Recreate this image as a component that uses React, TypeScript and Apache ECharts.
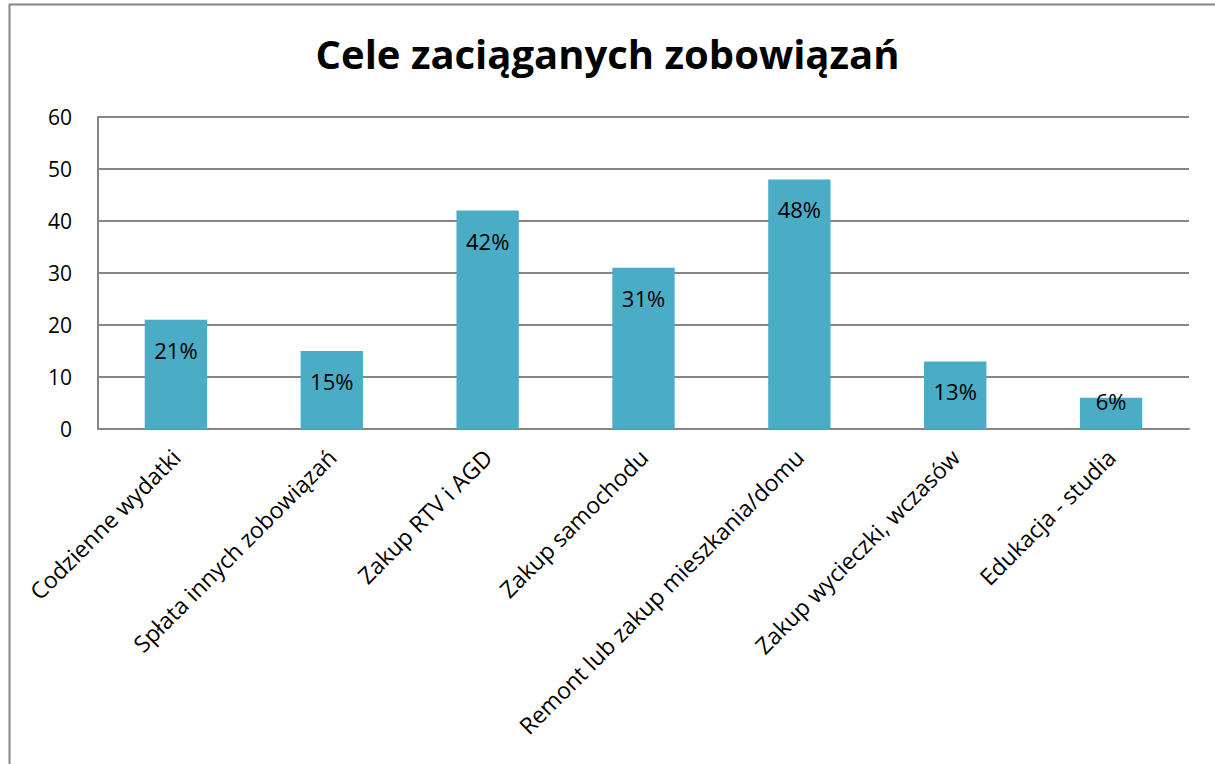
import React, { useEffect, useRef } from "react";
import * as echarts from "echarts";

const title = "Cele zaciąganych zobowiązań";
const categories = [
  "Codzienne wydatki",
  "Spłata innych zobowiązań",
  "Zakup RTV i AGD",
  "Zakup samochodu",
  "Remont lub zakup mieszkania/domu",
  "Zakup wycieczki, wczasów",
  "Edukacja - studia",
];
const values = [21, 15, 42, 31, 48, 13, 6];
const yTicks = { min: 0, max: 60, interval: 10 };

const FONT = "'Open Sans', sans-serif";
const GRID = "#868686";

export default function App() {
  const ref = useRef<HTMLDivElement>(null);
  useEffect(() => {
    if (!ref.current) return;
    const chart = echarts.init(ref.current, null, { renderer: "svg" });
    chart.setOption({
      animation: false,
      backgroundColor: "#ffffff",
      title: {
        text: title,
        left: "center",
        top: 28,
        textStyle: { fontFamily: FONT, fontWeight: "bold", fontSize: 40, color: "#000" },
      },
      graphic: [
        {
          type: "rect",
          shape: { x: 9.5, y: 4.5, width: 1230, height: 800 },
          style: { fill: "none", stroke: GRID, lineWidth: 2 },
          silent: true,
          z: -1,
        },
      ],
      grid: { left: 98, top: 117, right: 26, bottom: 335, containLabel: false },
      xAxis: {
        type: "category",
        data: categories,
        axisLine: { show: true, lineStyle: { color: GRID, width: 2 } },
        axisTick: { show: false },
        axisLabel: {
          interval: 0,
          rotate: 45,
          margin: 24,
          fontFamily: FONT,
          fontSize: 23,
          color: "#000",
        },
      },
      yAxis: {
        type: "value",
        min: yTicks.min,
        max: yTicks.max,
        interval: yTicks.interval,
        axisLine: { show: true, lineStyle: { color: GRID, width: 2 } },
        axisTick: { show: false },
        splitLine: { show: true, lineStyle: { color: GRID, width: 2 } },
        axisLabel: { margin: 26, fontFamily: FONT, fontSize: 21, color: "#000" },
      },
      series: [
        {
          type: "bar",
          data: values.map((v) => ({
            value: v,
            label:
              v < 8
                ? { position: "insideTop", distance: 0, offset: [0, -8] }
                : undefined,
          })),
          barWidth: "40%",
          itemStyle: { color: "#4BACC6" },
          label: {
            show: true,
            position: "insideTop",
            distance: 19,
            fontFamily: FONT,
            fontSize: 22,
            color: "#000",
            formatter: (p: any) => `${p.value}%`,
          },
        },
      ],
    });
    return () => chart.dispose();
  }, []);
  return (
    <div
      ref={ref}
      style={{ position: "absolute", left: 0, top: 0, width: 1215, height: 764 }}
    />
  );
}
